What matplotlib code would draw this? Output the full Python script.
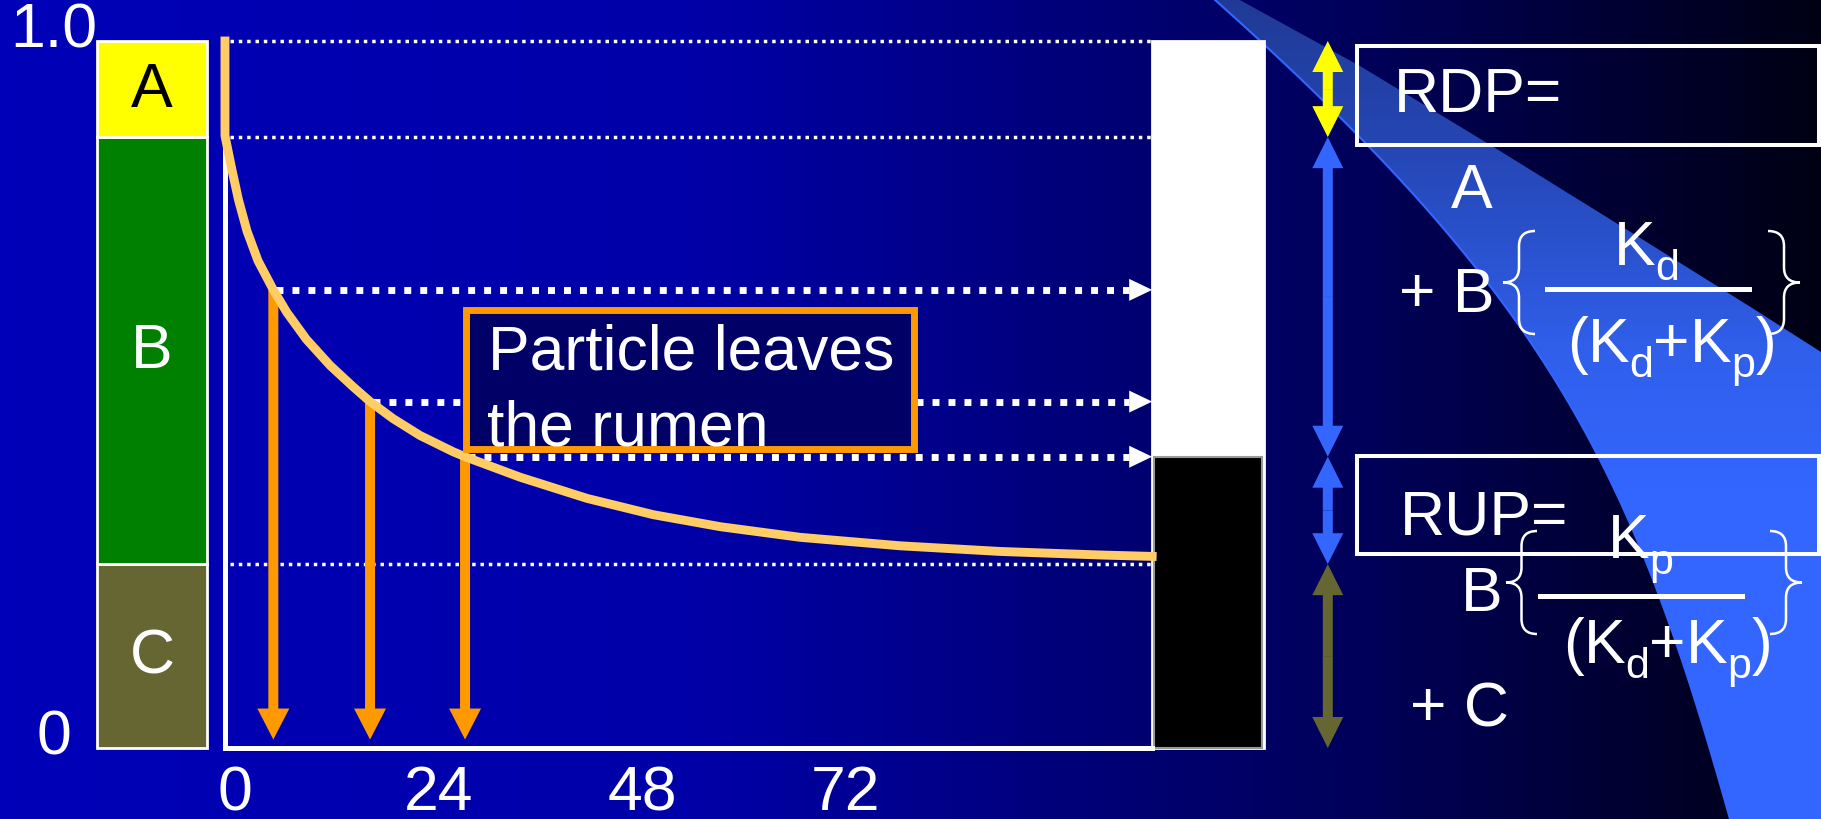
import numpy as np
import matplotlib
matplotlib.use('Agg')
import matplotlib.pyplot as plt
from matplotlib.path import Path
from matplotlib.patches import PathPatch, Rectangle, Polygon
from matplotlib.colors import LinearSegmentedColormap

plt.rcParams['font.family'] = ['Liberation Sans', 'DejaVu Sans']

# protein fractions, top to bottom
fractions = ['A', 'B', 'C']
frac_size = [0.136, 0.604, 0.260]
frac_color = ['#FFFF00', '#008000', '#666633']
frac_text = ['black', 'white', 'white']

# share of protein still in the particle vs. time in the rumen (h)
hours = [0, 0, 0.8, 1.6, 2.6, 3.9, 5.7, 7.3, 9.6, 12.4, 15.1, 17.1, 19.8, 23.0, 26.9,
         28.3, 34.8, 42.7, 50.5, 58.4, 67.8, 79.6, 91.4, 103.2, 109.3]
remaining = [1.0, 0.866, 0.819, 0.775, 0.731, 0.689, 0.648, 0.616, 0.578, 0.541, 0.511,
             0.490, 0.466, 0.442, 0.419, 0.412, 0.383, 0.353, 0.330, 0.313, 0.298,
             0.286, 0.278, 0.273, 0.271]

# points on the curve where a particle leaves the rumen
exit_idx = [6, 11, 15]

x_ticks = [0, 24, 48, 72]
x_tick_labels = ['0', '24', '48', '72']
y_ticks = [0, 1.0]
y_tick_labels = ['0', '1.0']

# layout
X0, X1 = -26.52, 188.14
Y0, Y1 = -0.1004, 1.0594
PX_H = 1821 / (X1 - X0)
PX_F = 820 / (Y1 - Y0)
bar_x, bar_w = -8.6, 13.0
out_w = 13.2
end_x = hours[-1]
out_x = end_x + out_w / 2
rail_x = 130.0
FS = 45

fig = plt.figure(figsize=(18.21, 8.2), dpi=100)
deco = fig.add_axes([0, 0, 1, 1])
ax = fig.add_axes([0, 0, 1, 1])
ax.patch.set_alpha(0)

# slide background
bg = LinearSegmentedColormap.from_list('bg', [(0.0, '#0000B8'), (0.38, '#0000A8'),
                                              (0.63, '#000070'), (0.75, '#00005A'),
                                              (1.0, '#000014')])
deco.imshow(np.linspace(0, 1, 512)[None, :], cmap=bg, extent=[0, 1821, 820, 0],
            aspect='auto', zorder=0)

# swoosh: curved left edge, straight upper edge
t = np.linspace(0, 1, 80)[:, None]
ctrl = np.array([(1214, 0), (1550, 300), (1632, 470), (1730, 820)])
left_edge = ((1 - t) ** 3 * ctrl[0] + 3 * (1 - t) ** 2 * t * ctrl[1]
             + 3 * (1 - t) * t ** 2 * ctrl[2] + t ** 3 * ctrl[3])
upper_edge = np.array([(1238, 0), (1360, 67), (1492, 147), (1621, 227), (1749, 307), (1821, 353)])
outline = np.vstack([left_edge, [(1821, 820)], upper_edge[::-1]])
shape = Polygon(outline, closed=True, facecolor='none', edgecolor='none')
deco.add_patch(shape)
sw = LinearSegmentedColormap.from_list('sw', [(0.0, (0.125, 0.227, 0.588)), (0.18, (0.145, 0.275, 0.706)),
                                              (0.43, (0.188, 0.373, 0.922)), (0.6, (0.2, 0.4, 1.0)),
                                              (1.0, (0.2, 0.4, 1.0))])
im = deco.imshow(np.linspace(0, 1, 256)[:, None], cmap=sw, extent=[1150, 1821, 820, 0],
                 aspect='auto', zorder=1)
im.set_clip_path(shape)
deco.plot(left_edge[:, 0], left_edge[:, 1], color='#3366FF', lw=1.5, zorder=2)

deco.set_xlim(0, 1821)
deco.set_ylim(820, 0)
deco.axis('off')


def brace(x0, x1, y0, y1, opening=True):
    xs = (x0 + x1) / 2
    tip, end = (x0, x1) if opening else (x1, x0)
    ym = (y0 + y1) / 2
    r = 15
    verts = [(end, y0), (xs, y0), (xs, y0 + r), (xs, ym - r), (xs, ym), (tip, ym),
             (xs, ym), (xs, ym + r), (xs, y1 - r), (xs, y1), (end, y1)]
    codes = [Path.MOVETO, Path.CURVE3, Path.CURVE3, Path.LINETO, Path.CURVE3, Path.CURVE3,
             Path.CURVE3, Path.CURVE3, Path.LINETO, Path.CURVE3, Path.CURVE3]
    deco.add_patch(PathPatch(Path(verts, codes), fill=False, edgecolor='white', lw=1.8, zorder=4))


renderer = fig.canvas.get_renderer()


def runs(x, y, pieces):
    for txt, size, dy in pieces:
        t = deco.text(x, y + dy, txt, fontsize=size, color='white', va='baseline', zorder=4)
        x += t.get_window_extent(renderer).width


denom = [('(', FS, 0), ('K', FS, 0), ('d', 31, 15), ('+', FS, 0), ('K', FS, 0),
         ('p', 31, 15), (')', FS, 0)]

# RDP formula
deco.add_patch(Rectangle((1357, 47), 462, 99, fill=False, edgecolor='white', lw=2.9, zorder=4))
deco.text(1394, 112, 'RDP=', fontsize=FS, color='white', va='baseline', zorder=4)
deco.text(1472, 208, 'A', fontsize=FS, color='white', va='baseline', ha='center', zorder=4)
deco.text(1399, 312, '+ B', fontsize=FS, color='white', va='baseline', zorder=4)
brace(1503, 1535, 232, 335)
runs(1614, 265, [('K', FS, 0), ('d', 31, 15)])
deco.plot([1547, 1749], [290, 290], color='white', lw=3.6, zorder=4)
runs(1567, 362, denom)
brace(1768, 1800, 232, 335, opening=False)

# RUP formula
deco.add_patch(Rectangle((1357, 457), 462, 98, fill=False, edgecolor='white', lw=2.9, zorder=4))
deco.text(1400, 535, 'RUP=', fontsize=FS, color='white', va='baseline', zorder=4)
deco.text(1461, 611, 'B', fontsize=FS, color='white', va='baseline', zorder=4)
brace(1506, 1537, 532, 635)
runs(1608, 558, [('K', FS, 0), ('p', 31, 16)])
deco.plot([1540, 1742], [597, 597], color='white', lw=3.6, zorder=4)
runs(1563, 663, denom)
brace(1770, 1802, 532, 635, opening=False)
deco.text(1410, 727, '+ C', fontsize=FS, color='white', va='baseline', zorder=4)

# stacked fraction bar, C at the bottom
level = 0
for name, size, col, tc in zip(fractions[::-1], frac_size[::-1], frac_color[::-1], frac_text[::-1]):
    ax.bar(bar_x, size, bottom=level, width=bar_w, color=col, edgecolor='white', lw=2, zorder=2)
    ax.text(bar_x, level + size / 2, name, ha='center', va='center', fontsize=FS, color=tc, zorder=3)
    level += size
a_level = 1 - frac_size[0]
c_level = frac_size[2]

for v, lab in zip(y_ticks, y_tick_labels):
    ax.text(-20.2, v - 0.008, lab, ha='center', va='baseline', fontsize=FS, color='white')
for t, lab in zip(x_ticks, x_tick_labels):
    ax.text(t + 10 / PX_H, -0.0863, lab, ha='center', va='baseline', fontsize=FS, color='white')

# guide lines
for v in [1.0, a_level, c_level]:
    ax.plot([0.6, end_x], [v, v], color='white', lw=2.5, linestyle=(0, (1, 1.4)),
            dash_capstyle='butt', zorder=2)

# output bar: white = degraded, black = escaped
escaped = remaining[exit_idx[-1]]
ax.bar(out_x, 1.0, width=out_w, color='white', edgecolor='white', lw=2, zorder=2)
ax.bar(out_x, escaped, width=out_w - 0.5, color='black', edgecolor='#9a9a9a', lw=1.5, zorder=2)

# axes
ax.plot([0, 0], [0, 1.0], color='white', lw=3.6, zorder=2)
ax.plot([0, end_x], [0, 0], color='white', lw=3.6, zorder=2)

ax.plot(hours, remaining, color='#FFCC66', lw=6.4, solid_joinstyle='round', zorder=5)

head_h, head_f = 23 / PX_H, 11 / PX_F
for i in exit_idx:
    t, r = hours[i], remaining[i]
    ax.arrow(t, r, 0, 0.012 - r, width=10 / PX_H, head_width=32 / PX_H,
             head_length=31 / PX_F, length_includes_head=True, color='#FF9900', lw=0, zorder=3)
    ax.plot([t + 0.3, end_x - head_h], [r, r], color='white', lw=5, linestyle=(0, (1, 1.3)),
            dash_capstyle='butt', zorder=4)
    ax.fill([end_x - head_h, end_x, end_x - head_h], [r + head_f, r, r - head_f],
            color='white', lw=0, zorder=4)

# particle label
ax.add_patch(Rectangle((465.5, 310.5), 448, 139, transform=deco.transData,
                       facecolor='#000066', edgecolor='#FF9900', lw=5, zorder=6))
ax.text(488, 370, 'Particle leaves', transform=deco.transData, fontsize=FS, color='white',
        va='baseline', zorder=7)
ax.text(487, 446, 'the rumen', transform=deco.transData, fontsize=FS, color='white',
        va='baseline', zorder=7)

# double arrows beside the output bar
spans = [(1.0, a_level, '#FFFF00'), (a_level, escaped, '#3366FF'),
         (escaped, c_level, '#3366FF'), (c_level, 0, '#666633')]
for top, bot, col in spans:
    mid = (top + bot) / 2
    for end in (top, bot):
        ax.arrow(rail_x, mid, 0, end - mid, width=10 / PX_H, head_width=31 / PX_H,
                 head_length=31 / PX_F, length_includes_head=True, color=col, lw=0, zorder=4)

ax.set_xlim(X0, X1)
ax.set_ylim(Y0, Y1)
ax.axis('off')

fig.savefig('out.png', dpi=100)
